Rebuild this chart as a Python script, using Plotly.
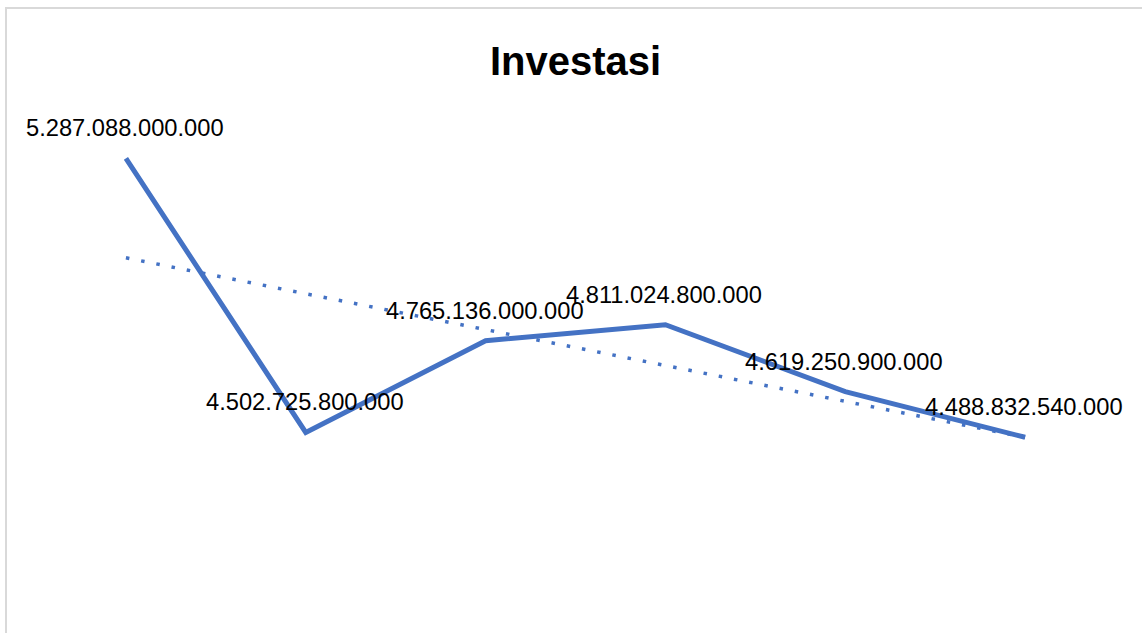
import numpy as np
import plotly.graph_objects as go

# ---- data ----
categories = ["1", "2", "3", "4", "5", "6"]
investasi = [5287088000000, 4502725800000, 4765136000000,
             4811024800000, 4619250900000, 4488832540000]
title_text = "Investasi"

# ---- layout constants ----
W, H = 1142, 633
ML, MR, MT, MB = 36, 27, 119, 25
Y_MIN, Y_MAX = 4.0e12, 5.4e12
BLUE = "#4472C4"

def fmt(v):
    return f"{v:,.0f}".replace(",", ".")

xi = np.arange(len(investasi))
slope, intercept = np.polyfit(xi, np.array(investasi, dtype=float), 1)
trend = slope * xi + intercept

fig = go.Figure()
fig.add_trace(go.Scatter(
    x=xi, y=trend, mode="lines",
    line=dict(color=BLUE, width=3.5, dash="3.5px,12px"),
    hoverinfo="skip", showlegend=False))
fig.add_trace(go.Scatter(
    x=xi, y=investasi, mode="lines",
    line=dict(color=BLUE, width=5),
    text=categories, showlegend=False))

for i, v in zip(xi, investasi):
    fig.add_annotation(
        x=int(i), y=v, xref="x", yref="y", text=fmt(v), showarrow=False,
        xanchor="center", yanchor="middle", yshift=30, xshift=-1,
        font=dict(family="Liberation Sans, Arial, sans-serif", size=23.7, color="#000000"))

pw = W - ML - MR
ph = H - MT - MB
# chart border (light grey, cut off at right/bottom)
fig.add_shape(type="rect", xref="paper", yref="paper",
              x0=(6 - ML) / pw, x1=(W + 200 - ML) / pw,
              y0=-(200) / ph, y1=(H - MB - 8) / ph,
              line=dict(color="#D9D9D9", width=2), fillcolor="rgba(0,0,0,0)",
              layer="below")

fig.update_layout(
    width=W, height=H,
    margin=dict(l=ML, r=MR, t=MT, b=MB, pad=0),
    paper_bgcolor="white", plot_bgcolor="white",
    title=dict(text=f"<b>{title_text}</b>", x=0.5, xref="paper",
               y=1 - 61 / H, yref="container", xanchor="center", yanchor="middle",
               font=dict(family="Liberation Sans, Arial, sans-serif", size=40, color="#000000")),
    xaxis=dict(range=[-0.5, len(categories) - 0.5],
               visible=False, showgrid=False, zeroline=False),
    yaxis=dict(range=[Y_MIN, Y_MAX], visible=False, showgrid=False, zeroline=False),
    showlegend=False,
)

fig.write_html("out.html", config={"displayModeBar": False},
               post_script="document.body.style.margin='0';document.body.style.overflow='hidden';")
